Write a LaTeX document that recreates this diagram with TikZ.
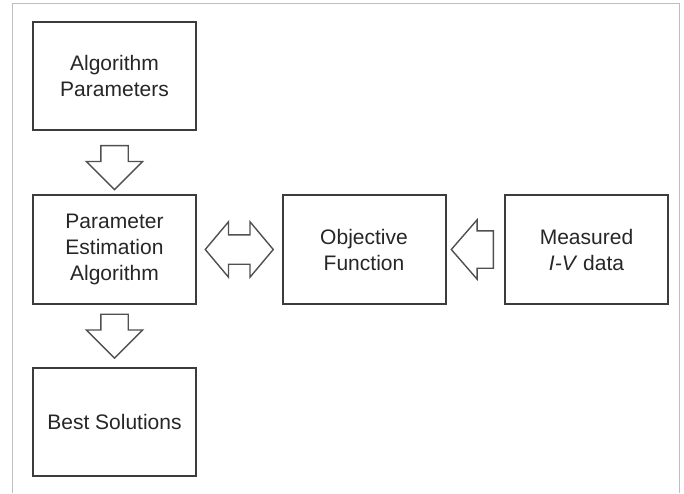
\documentclass[tikz,border=0pt]{standalone}
\usepackage{fontspec}
\setmainfont{Liberation Sans}
\usetikzlibrary{shapes.arrows,positioning,calc}
\definecolor{boxline}{RGB}{60,60,60}
\definecolor{arrline}{RGB}{80,80,80}
\definecolor{frameline}{RGB}{190,190,190}
\tikzset{box/.style={draw=boxline,line width=2pt,minimum width=163,minimum height=108,
    inner sep=2pt,align=center,text=black!85,font=\fontsize{21}{26}\selectfont},
  downarr/.style={single arrow,draw=arrline,line width=1.4pt,rotate=-90,anchor=tail,
    minimum height=44,single arrow head extend=14.5,inner xsep=0pt,inner ysep=13pt},
  leftarr/.style={single arrow,draw=arrline,line width=1.4pt,rotate=180,anchor=tail,
    minimum height=42,single arrow head extend=11,
    single arrow tip angle=98,inner xsep=0pt,inner ysep=18pt},
  botharr/.style={double arrow,draw=arrline,line width=1.4pt,
    minimum height=68,double arrow head extend=13,
    double arrow tip angle=100,inner xsep=0pt,inner ysep=14pt}}

\begin{document}
\begin{tikzpicture}[x=1pt, y=1pt]
\useasboundingbox (0,0) rectangle (684,493);
\fill[white] (0,0) rectangle (684,493);
\draw[frameline, line width=1pt] (12,0) -- (12,489) -- (679,489) -- (679,0);
\node[box] (par) at (114.5,417) {Algorithm\\Parameters};
\node[box] (pea) at (114.5,243.5) {Parameter\\Estimation\\Algorithm};
\node[box] (obj) at (364,243.5) {Objective\\Function};
\node[box] (iv) at (586.5,243.5) {Measured\\\textit{I-V} data};
\node[box] (best) at (114.5,71) {Best Solutions};
\node[downarr] (a1) at ($(par.south)+(0,-14)$) {};
\node[downarr] (a2) at ($(pea.south)+(0,-9)$) {};
\node[botharr] (a3) at ($(pea.east)!0.5!(obj.west)$) {};
\node[leftarr] (a4) at ($(iv.west)+(-10,0)$) {};
\end{tikzpicture}
\end{document}
